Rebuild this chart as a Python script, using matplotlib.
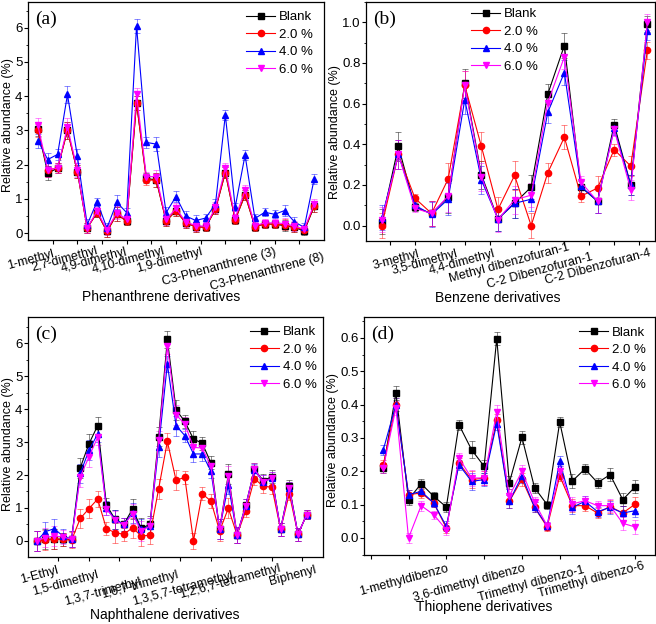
import numpy as np
import matplotlib
matplotlib.use('Agg')
import matplotlib.pyplot as plt
from matplotlib.ticker import MultipleLocator, FormatStrFormatter

plt.rcParams['font.family'] = ['Liberation Sans', 'DejaVu Sans']

names = ['Blank', '2.0 %', '4.0 %', '6.0 %']
colors = ['#000000', '#ff0000', '#0000ff', '#ff00ff']
markers = ['s', 'o', '^', 'v']

# (a) Phenanthrene derivatives
a_blank = [3.05, 1.75, 1.9, 3.0, 1.8, 0.15, 0.6, 0.05, 0.55, 0.35, 3.8, 1.6, 1.55, 0.35, 0.66,
           0.29, 0.19, 0.17, 0.7, 1.77, 0.39, 1.12, 0.19, 0.27, 0.26, 0.22, 0.17, 0.06, 0.78]
a_20 = [3.0, 1.85, 1.9, 3.0, 1.8, 0.15, 0.6, 0.05, 0.55, 0.35, 3.8, 1.55, 1.55, 0.35, 0.66,
        0.29, 0.19, 0.17, 0.7, 1.77, 0.39, 1.12, 0.19, 0.27, 0.26, 0.25, 0.17, 0.1, 0.78]
a_40 = [2.7, 2.15, 2.3, 4.05, 2.25, 0.25, 0.92, 0.15, 0.9, 0.6, 6.05, 2.65, 2.6, 0.6, 1.07,
        0.5, 0.37, 0.44, 0.85, 3.45, 0.76, 2.28, 0.43, 0.61, 0.55, 0.66, 0.33, 0.17, 1.58]
a_60 = [3.15, 1.85, 1.9, 3.1, 1.85, 0.15, 0.65, 0.1, 0.6, 0.4, 4.05, 1.65, 1.65, 0.4, 0.72,
        0.33, 0.22, 0.2, 0.75, 1.9, 0.45, 1.25, 0.22, 0.3, 0.3, 0.28, 0.2, 0.12, 0.85]
a_err = [0.2, 0.2, 0.15, 0.25, 0.2, 0.15, 0.12, 0.15, 0.2, 0.12, 0.2, 0.15, 0.2, 0.15, 0.15,
         0.15, 0.15, 0.12, 0.15, 0.15, 0.12, 0.15, 0.12, 0.12, 0.12, 0.15, 0.15, 0.12, 0.15]
a_labels = ['1-methyl', '2,7-dimethyl', '4,9-dimethyl', '4,10-dimethyl', '1,9-dimethyl',
            'C3-Phenanthrene (3)', 'C3-Phenanthrene (8)']
a_lab_x = [2.5, 6.9, 9.9, 13.65, 17.55, 25.0, 29.85]
a_lab_dy = [8, 5, 6, 5, 6, 6, 11]

# (b) Benzene derivatives
b_blank = [0.02, 0.39, 0.09, 0.06, 0.14, 0.70, 0.25, 0.033, 0.11, 0.19, 0.647, 0.886, 0.19,
           0.12, 0.497, 0.20, 0.99]
b_20 = [0.0, 0.35, 0.135, 0.06, 0.23, 0.69, 0.39, 0.08, 0.247, 0.0, 0.26, 0.435, 0.145,
        0.185, 0.374, 0.293, 0.862]
b_40 = [0.04, 0.35, 0.10, 0.055, 0.13, 0.62, 0.225, 0.033, 0.11, 0.13, 0.557, 0.753, 0.193,
        0.12, 0.478, 0.20, 0.955]
b_60 = [0.03, 0.35, 0.085, 0.06, 0.145, 0.69, 0.24, 0.03, 0.127, 0.15, 0.605, 0.83, 0.214,
        0.12, 0.473, 0.176, 1.0]
b_err = [0.06, 0.07, 0.02, 0.06, 0.08, 0.07, 0.07, 0.06, 0.07, 0.06, 0.05, 0.06, 0.03, 0.06,
         0.03, 0.05, 0.04]
b_labels = ['3-methyl', '3,5-dimethyl', '4,4-dimethyl', 'Methyl dibenzofuran-1',
            'C-2 Dibenzofuran-1', 'C-2 Dibenzofuran-4']
b_lab_x = [3.14, 5.49, 7.75, 12.18, 13.63, 17.08]
b_lab_dy = [7, 7, 7, 1, 10, 6]

# (c) Naphthalene derivatives
c_blank = [0.0, 0.05, 0.05, 0.05, 0.05, 2.22, 2.95, 3.5, 1.1, 0.65, 0.5, 0.97, 0.38, 0.5, 3.17,
           6.12, 3.98, 3.63, 3.09, 2.97, 2.37, 0.35, 2.02, 0.18, 1.08, 2.17, 1.83, 1.95, 0.35,
           1.66, 0.2, 0.8]
c_20 = [0.0, 0.02, 0.05, 0.05, 0.02, 0.68, 0.98, 1.27, 0.37, 0.25, 0.2, 0.4, 0.15, 0.17, 1.58,
        3.02, 1.84, 1.93, 0.0, 1.43, 1.21, 0.3, 0.99, 0.18, 0.91, 1.89, 1.66, 1.63, 0.35,
        1.43, 0.2, 0.8]
c_40 = [0.0, 0.28, 0.37, 0.15, 0.05, 2.05, 2.75, 3.25, 1.0, 0.65, 0.5, 0.85, 0.35, 0.45, 2.85,
        5.38, 3.5, 3.2, 2.64, 2.64, 2.12, 0.35, 1.71, 0.18, 1.06, 2.14, 1.8, 1.9, 0.35,
        1.6, 0.2, 0.8]
c_60 = [0.0, 0.1, 0.15, 0.12, 0.05, 1.95, 2.55, 3.15, 0.98, 0.62, 0.48, 0.82, 0.3, 0.45, 3.05,
        5.92, 3.83, 3.55, 2.84, 2.82, 2.27, 0.35, 1.97, 0.18, 1.06, 2.17, 1.8, 1.9, 0.35,
        1.6, 0.2, 0.8]
c_err = [0.3, 0.3, 0.3, 0.2, 0.25, 0.3, 0.3, 0.25, 0.2, 0.3, 0.2, 0.3, 0.3, 0.25, 0.3, 0.25,
         0.3, 0.2, 0.25, 0.2, 0.2, 0.3, 0.3, 0.25, 0.2, 0.2, 0.2, 0.2, 0.2, 0.2, 0.2, 0.15]
c_labels = ['1-Ethyl', '1,5-dimethyl', '1,3,7-trimethyl', '1,6,7-trimethyl',
            '1,3,5,7-tetramethyl', '1,2,6,7-tetramethyl', 'Biphenyl']
c_lab_x = [3.3, 7.89, 12.78, 17.07, 23.39, 28.74, 32.95]
c_lab_dy = [7, 12, 19, 12, 12, 5, 7]

# (d) Thiophene derivatives
d_blank = [0.21, 0.435, 0.115, 0.163, 0.125, 0.093, 0.34, 0.265, 0.215, 0.598, 0.166, 0.302,
           0.151, 0.10, 0.348, 0.171, 0.207, 0.166, 0.19, 0.115, 0.154]
d_20 = [0.22, 0.40, 0.13, 0.135, 0.105, 0.03, 0.225, 0.175, 0.18, 0.353, 0.11, 0.176, 0.092,
        0.033, 0.186, 0.097, 0.097, 0.075, 0.094, 0.075, 0.102]
d_40 = [0.265, 0.40, 0.13, 0.14, 0.105, 0.035, 0.22, 0.17, 0.175, 0.343, 0.11, 0.186, 0.092,
        0.037, 0.23, 0.092, 0.11, 0.079, 0.092, 0.075, 0.082]
d_60 = [0.21, 0.39, 0.0, 0.097, 0.07, 0.025, 0.24, 0.18, 0.18, 0.378, 0.126, 0.2, 0.107,
        0.037, 0.2, 0.102, 0.112, 0.097, 0.097, 0.044, 0.033]
d_err = [0.015, 0.02, 0.015, 0.015, 0.012, 0.015, 0.015, 0.025, 0.02, 0.02, 0.02, 0.02, 0.015,
         0.012, 0.015, 0.02, 0.015, 0.015, 0.02, 0.02, 0.02]
d_labels = ['1-methyldibenzo', '3,6-dimethyl dibenzo', 'Trimethyl dibenzo-1',
            'Trimethyl dibenzo-6']
d_lab_x = [6.0, 12.09, 16.85, 21.6]
d_lab_dy = [8, 8, 9, 5]

W, H = 656, 624
fig = plt.figure(figsize=(W / 100, H / 100), dpi=100)


def box(l, t, r, b):
    return [l / W, 1 - b / H, (r - l) / W, (b - t) / H]


panels = [
    dict(rect=box(28, 2, 324, 240), series=[a_blank, a_20, a_40, a_60], err=a_err,
         xlim=(0, 30), ylim=(-0.2, 6.75), ystep=1, fmt='%d', xticks=np.arange(2.5, 30, 2.5),
         labels=a_labels, lab_x=a_lab_x, lab_dy=a_lab_dy, letter='(a)',
         xlabel='Phenanthrene derivatives', xl_pos=(0.449, -0.238), yl_pos=(-0.047, 0.483),
         leg=(0.963, 0.962)),
    dict(rect=box(366, 2, 655, 240.7), series=[b_blank, b_20, b_40, b_60], err=b_err,
         xlim=(0.05, 17.46), ylim=(-0.074, 1.1), ystep=0.2, fmt='%.1f',
         xticks=np.arange(1.5, 17, 1.5),
         labels=b_labels, lab_x=b_lab_x, lab_dy=b_lab_dy, letter='(b)',
         xlabel='Benzene derivatives', xl_pos=(0.457, -0.24), yl_pos=(-0.087, 0.455),
         leg=(0.595, 0.975)),
    dict(rect=box(28, 317, 323, 557), series=[c_blank, c_20, c_40, c_60], err=c_err,
         xlim=(0, 33.87), ylim=(-0.49, 6.8), ystep=1, fmt='%d', xticks=np.arange(3.5, 33, 3.5),
         labels=c_labels, lab_x=c_lab_x, lab_dy=c_lab_dy, letter='(c)',
         xlabel='Naphthalene derivatives', xl_pos=(0.464, -0.24), yl_pos=(-0.047, 0.469),
         leg=(0.979, 0.962)),
    dict(rect=box(364.3, 317.3, 655, 555), series=[d_blank, d_20, d_40, d_60], err=d_err,
         xlim=(-0.51, 22.56), ylim=(-0.051, 0.662), ystep=0.1, fmt='%.1f',
         xticks=np.arange(0, 22, 3),
         labels=d_labels, lab_x=d_lab_x, lab_dy=d_lab_dy, letter='(d)',
         xlabel='Thiophene derivatives', xl_pos=(0.414, -0.219), yl_pos=(-0.086, 0.484),
         leg=(0.969, 0.962)),
]

for p in panels:
    ax = fig.add_axes(p['rect'])
    handles = []
    for ys, name, c, m in zip(p['series'], names, colors, markers):
        x = np.arange(1, len(ys) + 1)
        eb = ax.errorbar(x, ys, yerr=p['err'], color=c, marker=m, ms=4.5, lw=0.8,
                         elinewidth=0.6, capsize=2, capthick=0.6, ecolor=c, label=name)
        for art in list(eb[1]) + list(eb[2]):
            art.set_alpha(0.55)
        handles.append(eb[0])

    ax.set_xlim(*p['xlim'])
    ax.set_ylim(*p['ylim'])
    ax.set_xticks(p['xticks'])
    ax.yaxis.set_major_locator(MultipleLocator(p['ystep']))
    ax.yaxis.set_minor_locator(MultipleLocator(p['ystep'] / 2))
    ax.yaxis.set_major_formatter(FormatStrFormatter(p['fmt']))
    ax.tick_params(axis='x', direction='out', length=3, width=0.8, labelbottom=False)
    ax.tick_params(axis='y', which='major', direction='out', length=3, width=0.8,
                   labelsize=9.5, pad=1)
    ax.tick_params(axis='y', which='minor', direction='out', length=1.8, width=0.6)
    for s in ax.spines.values():
        s.set_linewidth(0.9)

    for lbl, lx, dy in zip(p['labels'], p['lab_x'], p['lab_dy']):
        ax.annotate(lbl, xy=(lx, 0), xycoords=('data', 'axes fraction'),
                    xytext=(0, -dy), textcoords='offset pixels', rotation=15,
                    rotation_mode='anchor', ha='right', va='top', fontsize=9)

    ax.text(p['xl_pos'][0], p['xl_pos'][1], p['xlabel'], transform=ax.transAxes,
            ha='center', va='center', fontsize=10)
    ax.set_ylabel('Relative abundance (%)', fontsize=9)
    ax.yaxis.set_label_coords(*p['yl_pos'])

    ax.text(0.024, 0.965, p['letter'], transform=ax.transAxes, ha='left', va='top',
            fontsize=14, family='Liberation Serif')

    ax.legend(handles=handles, labels=names, loc='upper right', bbox_to_anchor=p['leg'],
              frameon=False, fontsize=9.5, handlelength=2.2, handletextpad=0.3,
              labelspacing=0.4, borderpad=0, borderaxespad=0)

fig.savefig('out.png', dpi=100)
